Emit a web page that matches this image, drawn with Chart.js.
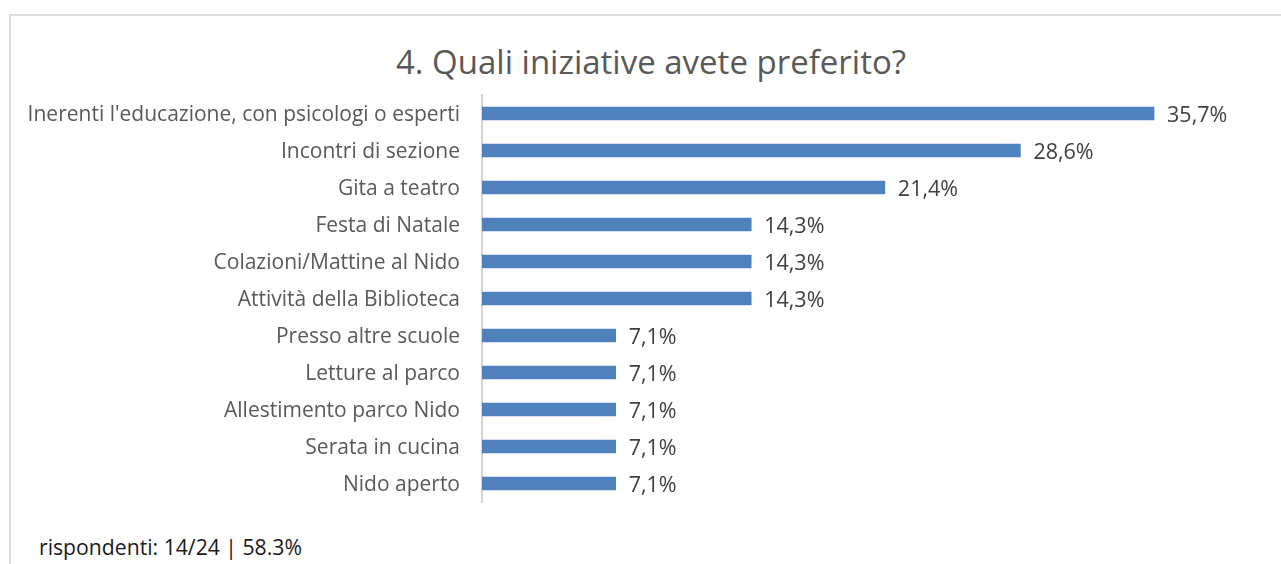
<!DOCTYPE html>
<html>
<head>
<meta charset="utf-8">
<script src="https://cdn.jsdelivr.net/npm/chart.js@4/dist/chart.umd.min.js"></script>
<style>
  html, body { margin: 0; padding: 0; width: 1281px; height: 564px; overflow: hidden; background: #fff; }
  #frame { position: absolute; left: 9px; top: 14px; width: 1300px; height: 620px; border: 2px solid #dcdcdc; box-sizing: border-box; }
  #title { position: absolute; left: 0; width: 1302px; top: 39px; text-align: center; font-family: "Open Sans", sans-serif; font-size: 33px; color: #595959; line-height: 46px; }
  #foot { position: absolute; left: 39px; top: 533px; font-family: "Open Sans", sans-serif; font-size: 21.2px; color: #1a1a1a; line-height: 28px; }
  #wrap { position: absolute; left: 0; top: 0; width: 1281px; height: 564px; }
</style>
</head>
<body>
<div id="frame"></div>
<div id="title">4. Quali iniziative avete preferito?</div>
<div id="foot">rispondenti: 14/24 | 58.3%</div>
<div id="wrap"><canvas id="c" width="1281" height="564"></canvas></div>
<script>
const categories = [
  "Inerenti l'educazione, con psicologi o esperti",
  "Incontri di sezione",
  "Gita a teatro",
  "Festa di Natale",
  "Colazioni/Mattine al Nido",
  "Attività della Biblioteca",
  "Presso altre scuole",
  "Letture al parco",
  "Allestimento parco Nido",
  "Serata in cucina",
  "Nido aperto"
];
const values = [35.7, 28.6, 21.4, 14.3, 14.3, 14.3, 7.1, 7.1, 7.1, 7.1, 7.1];
const axisMax = 40;

const labelPlugin = {
  id: 'barLabels',
  afterDatasetsDraw(chart) {
    const ctx = chart.ctx;
    const meta = chart.getDatasetMeta(0);
    ctx.save();
    ctx.font = '21.5px "Open Sans", sans-serif';
    ctx.fillStyle = '#404040';
    ctx.textAlign = 'left';
    ctx.textBaseline = 'middle';
    meta.data.forEach((bar, i) => {
      const txt = values[i].toFixed(1).replace('.', ',') + '%';
      ctx.fillText(txt, bar.x + 13, bar.y + 2);
    });
    ctx.restore();
  }
};

new Chart(document.getElementById('c'), {
  type: 'bar',
  data: {
    labels: categories,
    datasets: [{
      data: values,
      backgroundColor: '#4f81bd',
      borderWidth: 0,
      barThickness: 13
    }]
  },
  options: {
    indexAxis: 'y',
    responsive: false,
    animation: false,
    layout: { padding: { left: 0, top: 95, right: 46, bottom: 62 } },
    plugins: { legend: { display: false }, tooltip: { enabled: false }, title: { display: false } },
    scales: {
      x: { display: false, min: 0, max: axisMax },
      y: {
        afterFit(scale) { scale.width = 482; },
        grid: { display: false, drawTicks: false },
        border: { display: true, color: '#d4d4d4', width: 2 },
        ticks: { padding: 22, labelOffset: 2, color: '#595959', font: { family: '"Open Sans", sans-serif', size: 21 } }
      }
    }
  },
  plugins: [labelPlugin]
});
</script>
</body>
</html>
